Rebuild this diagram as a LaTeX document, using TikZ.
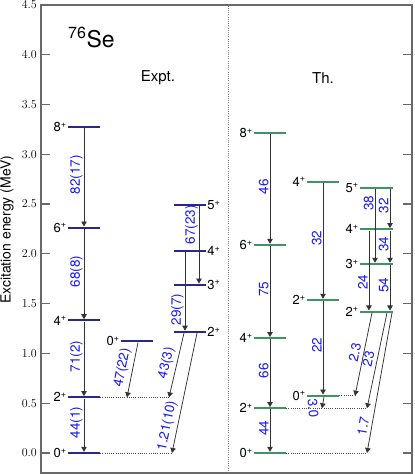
\documentclass[tikz,border=0pt]{standalone}
\usepackage{fontspec}
\setmainfont{TeX Gyre Heros}
\usetikzlibrary{positioning,arrows.meta}
\definecolor{lvExpt}{RGB}{40, 40, 140}
\definecolor{lvTh}{RGB}{60, 150, 100}
\definecolor{bLabel}{RGB}{25, 25, 245}
\definecolor{frameGray}{RGB}{105, 105, 105}

\begin{document}
\begin{tikzpicture}[x=1pt, y=99.6pt,
      lvE/.style={fill=lvExpt, minimum width=32pt, minimum height=2pt, inner sep=0pt},
      lvT/.style={fill=lvTh, minimum width=32pt, minimum height=2pt, inner sep=0pt},
      spin/.style={font=\fontsize{13}{13}\selectfont, inner sep=1pt},
      tr/.style={-{Triangle[length=5pt, width=5.5pt]}, line width=0.75pt, black!80},
      bt/.style={font=\fontsize{13.5}{13.5}\selectfont, text=bLabel, inner sep=1pt},
      bv/.style={bt, rotate=90, above=2.5pt},
      bs/.style={bt, sloped, above=2.5pt},
      fade/.style={dash pattern=on 1pt off 1.2pt, black!70, line width=0.7pt},
      tick/.style={frameGray, line width=1.2pt}
    ]
      \fill[white] (0,-0.2108) rectangle (415,4.5482);
      \useasboundingbox (0,-0.2108) rectangle (415,4.5482);
      \draw[frameGray, line width=1.6pt] (41,-0.2) rectangle (412,4.5);
      \foreach \e [count=\i] in {0,0.5,...,4.5} {
        \draw[tick] (41,\e) -- (50,\e);
        \draw[tick] (412,\e) -- (403,\e);
        \node[anchor=east, font=\fontsize{12}{12}\selectfont, inner sep=1pt] (ytk\i) at (38,\e)
          {\pgfmathprintnumber[fixed, fixed zerofill, precision=1]{\e}};
      }
      \node[rotate=90, font=\fontsize{14}{14}\selectfont] (ylab) at (7,2.24) {Excitation energy (MeV)};
      \draw[fade, black!50] (228,-0.2) -- (228,4.5);
      \node[anchor=base west, font=\fontsize{23}{23}\selectfont, inner sep=0pt] (nuc) at (68,4.076) {\textsuperscript{76}Se};
      \node[anchor=base, font=\fontsize{15}{15}\selectfont] (hExpt) at (158,3.73) {Expt.};
      \node[anchor=base, font=\fontsize{15}{15}\selectfont] (hTh) at (323,3.71) {Th.};

      \node[lvE] (e0) at (84,0) {};
      \node[lvE] (e2) at (84,0.559) {};
      \node[lvE] (e4) at (84,1.331) {};
      \node[lvE] (e6) at (84,2.262) {};
      \node[lvE] (e8) at (84,3.272) {};
      \node[lvE] (e0b) at (137,1.122) {};
      \node[lvE] (e2b) at (190,1.216) {};
      \node[lvE] (e3) at (190,1.689) {};
      \node[lvE] (e4b) at (190,2.026) {};
      \node[lvE] (e5) at (190,2.490) {};
      \node[spin, left=0pt of e0] (se0) {0\textsuperscript{+}};
      \node[spin, left=0pt of e2] (se2) {2\textsuperscript{+}};
      \node[spin, left=0pt of e4] (se4) {4\textsuperscript{+}};
      \node[spin, left=0pt of e6] (se6) {6\textsuperscript{+}};
      \node[spin, left=0pt of e8] (se8) {8\textsuperscript{+}};
      \node[spin, left=0pt of e0b] (se0b) {0\textsuperscript{+}};
      \node[spin, right=0pt of e2b] (se2b) {2\textsuperscript{+}};
      \node[spin, right=0pt of e3] (se3) {3\textsuperscript{+}};
      \node[spin, right=0pt of e4b] (se4b) {4\textsuperscript{+}};
      \node[spin, right=0pt of e5] (se5) {5\textsuperscript{+}};
      \coordinate (x2a) at (127,0.559);
      \coordinate (x2e) at (169,0.559);
      \coordinate (x0e) at (172,0);
      \draw[fade] (e2) -- (x2e);
      \draw[fade] (e0) -- (x0e);
      \draw[tr] (e8) -- (e6) node[bv, midway] (be86) {82(17)};
      \draw[tr] (e6) -- (e4) node[bv, midway] (be64) {68(8)};
      \draw[tr] (e4) -- (e2) node[bv, midway] (be42) {71(2)};
      \draw[tr] (e2) -- (e0) node[bv, midway] (be20) {44(1)};
      \draw[tr] ([xshift=1pt]e0b.south) -- (x2a) node[bs, midway] (be02) {47(22)};
      \draw[tr] ([xshift=-6pt]e2b.south) -- (x2e) node[bs, midway] (be22) {43(3)};
      \draw[tr] ([xshift=7pt]e2b.south) -- (x0e) node[bs, pos=0.79] (be2g) {1.21(10)};
      \draw[tr] ([xshift=9pt]e5.south) -- ([xshift=9pt]e3.north) node[bv, pos=0.27] (be53) {67(23)};
      \draw[tr] ([xshift=-5pt]e4b.south) -- ([xshift=-5pt]e2b.north) node[bv, pos=0.76] (be42b) {29(7)};

      \node[lvT] (t0) at (270,0) {};
      \node[lvT] (t2) at (270,0.449) {};
      \node[lvT] (t4) at (270,1.152) {};
      \node[lvT] (t6) at (270,2.088) {};
      \node[lvT] (t8) at (270,3.210) {};
      \node[lvT] (t0b) at (323,0.575) {};
      \node[lvT] (t2b) at (323,1.536) {};
      \node[lvT] (t4b) at (323,2.724) {};
      \node[lvT, minimum width=33pt] (t2c) at (376.5,1.419) {};
      \node[lvT, minimum width=33pt] (t3) at (376.5,1.898) {};
      \node[lvT, minimum width=33pt] (t4c) at (376.5,2.246) {};
      \node[lvT, minimum width=33pt] (t5) at (376.5,2.664) {};
      \node[spin, left=0pt of t0] (st0) {0\textsuperscript{+}};
      \node[spin, left=0pt of t2] (st2) {2\textsuperscript{+}};
      \node[spin, left=0pt of t4] (st4) {4\textsuperscript{+}};
      \node[spin, left=0pt of t6] (st6) {6\textsuperscript{+}};
      \node[spin, left=0pt of t8] (st8) {8\textsuperscript{+}};
      \node[spin, left=0pt of t0b] (st0b) {0\textsuperscript{+}};
      \node[spin, left=0pt of t2b] (st2b) {2\textsuperscript{+}};
      \node[spin, left=0pt of t4b] (st4b) {4\textsuperscript{+}};
      \node[spin, left=0pt of t2c] (st2c) {2\textsuperscript{+}};
      \node[spin, left=0pt of t3] (st3) {3\textsuperscript{+}};
      \node[spin, left=0pt of t4c] (st4c) {4\textsuperscript{+}};
      \node[spin, left=0pt of t5] (st5) {5\textsuperscript{+}};
      \coordinate (x2ta) at (322,0.449);
      \coordinate (x0tb) at (355,0.575);
      \coordinate (x2t) at (367,0.449);
      \coordinate (x0t) at (367,0);
      \draw[fade] (t0b) -- (x0tb);
      \draw[fade] (t2) -- (x2t);
      \draw[fade] (t0) -- (x0t);
      \draw[tr] (t8) -- (t6) node[bv, midway] (bt86) {46};
      \draw[tr] (t6) -- (t4) node[bv, midway] (bt64) {75};
      \draw[tr] (t4) -- (t2) node[bv, midway] (bt42) {66};
      \draw[tr] (t2) -- (t0) node[bv, midway] (bt20) {44};
      \draw[tr] (t4b) -- (t2b) node[bv, midway] (bt42b) {32};
      \draw[tr] (t2b) -- (t0b) node[bv, midway] (bt20b) {22};
      \draw[tr] ([xshift=1pt]t0b.south) -- (x2ta);
      \node[bt, rotate=-85] (bt02) at (313,0.45) {3.0};
      \draw[tr] ([xshift=13.5pt]t5.south) -- ([xshift=13.5pt]t4c.north) node[bv, midway] (bt54) {32};
      \draw[tr] ([xshift=-1.5pt]t5.south) -- ([xshift=-1.5pt]t3.north) node[bv, pos=0.23] (bt53) {38};
      \draw[tr] ([xshift=13.5pt]t4c.south) -- ([xshift=13.5pt]t3.north) node[bv, midway] (bt43) {34};
      \draw[tr] ([xshift=-7.5pt]t4c.south) -- ([xshift=-7.5pt]t2c.north) node[bv, pos=0.68] (bt42c) {24};
      \draw[tr] ([xshift=13.5pt]t3.south) -- ([xshift=13.5pt]t2c.north) node[bv, midway] (bt32) {54};
      \draw[tr] ([xshift=-4.5pt]t2c.south) -- (x0tb) node[bs, midway] (bt2o) {2.3};
      \draw[tr] ([xshift=10.5pt]t2c.south) -- (x2t) node[bs, midway] (bt22) {23};
      \draw[tr] ([xshift=15.5pt]t2c.south) -- (x0t) node[bs, pos=0.82] (bt2g) {1.7};
    \end{tikzpicture}
\end{document}
